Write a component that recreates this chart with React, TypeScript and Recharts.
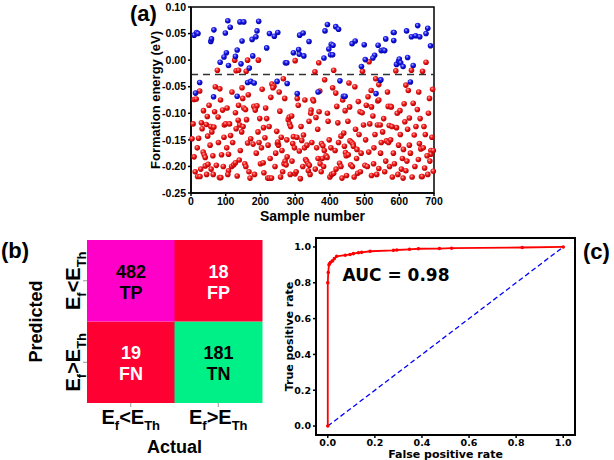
import React from 'react';
import {
  ScatterChart,
  Scatter,
  BarChart,
  Bar,
  Cell,
  LabelList,
  LineChart,
  Line,
  XAxis,
  YAxis,
  Label,
  ReferenceLine,
  ReferenceArea,
  ReferenceDot,
} from 'recharts';

// ---- (a) formation energy vs sample number ----
// [sample number, formation energy (eV)], predicted below threshold (red)
const belowFirstHalf: [number, number][] = [
  [9, -0.074], [15, -0.073], [9, -0.182], [19, -0.219], [26, -0.219], [32, -0.129], [35, -0.173], [38, -0.178],
  [41, -0.183], [41, -0.199], [49, -0.196], [47, -0.106], [44, -0.121], [3, -0.148], [22, -0.147], [12, -0.21],
  [28, -0.205], [36, -0.095], [30, -0.118], [45, -0.215], [6, -0.12], [18, -0.165], [25, -0.058], [48, -0.143],
  [57, -0.125], [63, -0.18], [64, -0.215], [70, -0.05], [83, -0.054], [68, -0.097], [73, -0.198], [78, -0.107],
  [82, -0.221], [86, -0.221], [96, -0.122], [100, -0.12], [91, -0.094], [76, -0.019], [55, -0.16], [60, -0.135],
  [88, -0.178], [93, -0.2], [66, -0.126], [52, -0.085], [79, -0.155], [95, -0.145], [58, -0.205], [85, -0.075],
  [111, -0.12], [108, -0.177], [108, -0.208], [117, -0.2], [123, -0.197], [128, -0.193], [128, -0.099], [130, -0.129],
  [136, -0.113], [140, -0.122], [147, -0.052], [149, -0.072], [104, -0.09], [120, -0.155], [114, -0.142], [133, -0.218],
  [126, 0.0], [130, -0.02], [137, -0.019], [137, -0.085], [142, -0.17], [103, -0.165], [118, -0.06], [146, -0.135],
  [106, -0.215], [139, -0.188],
  [152, -0.09], [157, -0.093], [160, -0.112], [163, -0.156], [167, -0.21], [159, -0.021], [163, 0.0], [194, 0.0],
  [181, -0.087], [185, -0.09], [190, -0.086], [185, -0.094], [198, -0.11], [200, -0.195], [155, -0.195], [170, -0.222],
  [172, -0.148], [179, -0.158], [193, -0.135], [158, -0.2], [188, -0.175], [196, -0.155], [165, -0.065], [183, -0.215],
  [150, -0.125],
  [208, -0.193], [209, -0.127], [213, -0.146], [221, -0.222], [226, -0.222], [232, -0.222], [233, -0.045], [239, -0.049],
  [236, -0.052], [247, -0.134], [249, -0.157], [252, -0.16], [250, -0.154], [205, -0.055], [215, -0.09], [222, -0.16],
  [228, -0.185], [242, -0.2], [203, -0.165], [218, -0.11], [230, -0.07], [244, -0.175], [210, -0.212], [225, -0.125],
  [256, -0.096], [264, -0.21], [266, -0.035], [268, -0.195], [271, -0.19], [274, -0.197], [277, -0.182], [280, -0.112],
  [283, -0.107], [284, -0.12], [287, -0.125], [290, -0.105], [293, -0.157], [295, -0.144], [300, -0.214], [260, -0.145],
  [262, -0.17], [258, -0.22], [270, -0.072], [276, -0.15], [286, -0.215], [300, -0.001], [291, -0.19], [254, -0.06],
  [298, -0.165],
  [306, -0.072], [312, -0.171], [319, -0.151], [324, -0.141], [330, -0.187], [333, -0.19], [337, -0.195], [341, -0.198],
  [343, -0.215], [346, -0.094], [351, -0.074], [303, -0.21], [309, -0.085], [315, -0.223], [322, -0.2], [327, -0.165],
  [334, -0.16], [340, -0.115], [345, -0.1], [348, -0.155], [317, -0.125], [328, -0.075], [305, -0.145], [338, -0.208],
];

const belowSecondHalf: [number, number][] = [
  [353, -0.077], [360, -0.108], [369, -0.097], [376, -0.157], [380, -0.161], [384, -0.17], [389, -0.18], [392, -0.183],
  [385, -0.037], [400, -0.22], [357, -0.022], [368, -0.005], [358, -0.205], [362, -0.165], [365, -0.13], [372, -0.195],
  [375, -0.21], [378, -0.185], [382, -0.2], [395, -0.115], [398, -0.15], [366, -0.185], [371, -0.058], [393, -0.1],
  [405, -0.215], [411, -0.213], [408, -0.052], [411, -0.019], [417, -0.062], [420, -0.087], [423, -0.118], [428, -0.194],
  [432, -0.2], [432, -0.143], [440, -0.137], [442, -0.162], [445, -0.174], [447, -0.18], [453, -0.178], [448, -0.217],
  [415, -0.17], [403, -0.165], [425, -0.155], [437, -0.075], [435, -0.222], [418, -0.205], [444, -0.095],
  [455, -0.043], [458, -0.152], [463, -0.155], [467, -0.158], [468, -0.162], [474, -0.13], [478, -0.168], [480, -0.213],
  [482, -0.078], [487, -0.097], [493, -0.099], [501, -0.198], [460, -0.197], [470, -0.22], [472, -0.05], [477, -0.185],
  [484, -0.14], [490, -0.175], [494, -0.021], [452, -0.115], [465, -0.2], [497, -0.122], [457, -0.088], [488, -0.21],
  [505, -0.085], [510, -0.069], [512, -0.173], [519, -0.057], [520, -0.088], [520, -0.217], [526, -0.195], [527, -0.165],
  [537, -0.122], [538, -0.077], [541, -0.046], [541, -0.075], [545, -0.122], [546, -0.175], [541, -0.204], [513, -0.003],
  [515, -0.12], [530, -0.14], [508, -0.2], [535, -0.215], [503, -0.15], [524, -0.105], [548, -0.155], [532, -0.035],
  [561, -0.19], [563, -0.152], [568, -0.087], [571, -0.123], [569, -0.155], [575, -0.087], [577, -0.088], [575, -0.15],
  [590, -0.02], [592, -0.127], [594, -0.1], [555, -0.11], [558, -0.21], [580, -0.22], [583, -0.175], [586, -0.195],
  [566, -0.06], [598, -0.16], [552, -0.135], [596, -0.215], [572, -0.2], [579, -0.125],
  [606, -0.205], [612, -0.168], [614, -0.082], [616, -0.116], [619, -0.047], [619, -0.208], [626, -0.057], [629, -0.109],
  [629, -0.16], [635, -0.019], [640, -0.081], [643, -0.141], [645, -0.2], [603, -0.14], [609, -0.185], [622, -0.19],
  [632, -0.175], [637, -0.22], [648, -0.125], [624, -0.13], [602, -0.095], [611, -0.222],
  [652, -0.093], [655, -0.187], [658, -0.157], [662, -0.167], [664, -0.219], [666, -0.219], [669, -0.165], [667, -0.021],
  [671, -0.125], [673, -0.203], [677, -0.004], [687, -0.072], [688, -0.19], [691, -0.17], [691, -0.177], [694, -0.145],
  [696, -0.055], [698, -0.17], [698, -0.209], [660, -0.11], [675, -0.14], [682, -0.215], [684, -0.1], [656, -0.06],
  [680, -0.18],
];

// predicted above threshold (blue)
const aboveSamples: [number, number][] = [
  [9, 0.047], [16, 0.052], [20, 0.05], [57, 0.035], [59, 0.04], [66, 0.057], [99, 0.051], [106, 0.074],
  [113, 0.062], [102, 0.014], [95, 0.006], [84, -0.004], [108, -0.01], [128, 0.007], [133, 0.019], [25, -0.042],
  [13, -0.062], [65, -0.069], [133, -0.068],
  [141, 0.072], [152, 0.072], [195, 0.073], [190, 0.055], [147, 0.036], [176, 0.039], [187, 0.044], [226, 0.05],
  [240, 0.045], [250, 0.052], [218, 0.023], [144, -0.007], [168, -0.015], [163, -0.042], [172, -0.04], [182, -0.043],
  [248, -0.04], [272, -0.005], [178, 0.008],
  [393, 0.067], [386, 0.055], [313, 0.047], [323, 0.051], [340, 0.035], [295, 0.014], [310, 0.02], [312, 0.011],
  [325, 0.008], [276, -0.005], [404, 0.03], [397, 0.021], [402, 0.01], [383, 0.004], [277, -0.044], [306, -0.063],
  [366, -0.06],
  [417, 0.063], [425, 0.058], [409, 0.028], [408, 0.01], [464, 0.031], [473, 0.036], [499, 0.029], [539, 0.028],
  [548, 0.018], [529, 0.009], [524, 0.004], [502, 0.001], [491, -0.012], [429, -0.039], [439, -0.068], [444, -0.068],
  [533, -0.063], [545, -0.038],
  [583, 0.052], [585, 0.052], [584, 0.037], [561, 0.04], [554, 0.019], [558, 0.018], [621, 0.055], [653, 0.065],
  [682, 0.06], [635, 0.044], [647, 0.046], [659, 0.044], [677, 0.05], [690, 0.027], [624, 0.005], [592, -0.008],
  [598, -0.002], [600, 0.002], [604, -0.005], [611, -0.012], [640, -0.01], [632, -0.041], [547, -0.037],
];

const thresholdEnergy = -0.027;
const energyTicks = [-0.25, -0.2, -0.15, -0.1, -0.05, 0, 0.05, 0.1];
const sampleTicks = [0, 100, 200, 300, 400, 500, 600, 700];

// ---- (b) confusion matrix ----
const actualClasses = ['E_f<E_Th', 'E_f>E_Th'];
const predictedClasses = ['E_f<E_Th', 'E_f>E_Th']; // top row, bottom row
const predLowCounts = [482, 18];
const predLowCodes = ['TP', 'FP'];
const predHighCounts = [19, 181];
const predHighCodes = ['FN', 'TN'];

// ---- (c) ROC ----
const rocFpr = [0, 0, 0.002, 0.005, 0.008, 0.012, 0.02, 0.028, 0.038, 0.074, 0.095, 0.109, 0.13, 0.144, 0.18, 0.279, 0.293, 0.347, 0.385, 0.474, 0.526, 0.826, 1.0];
const rocTpr = [0, 0.8, 0.857, 0.9, 0.907, 0.915, 0.922, 0.935, 0.948, 0.954, 0.958, 0.963, 0.968, 0.97, 0.976, 0.981, 0.983, 0.987, 0.99, 0.991, 0.993, 0.997, 1.0];
const chanceFpr = [0, 1];
const chanceTpr = [0, 1];
const rateTicks = [0, 0.2, 0.4, 0.6, 0.8, 1.0];
const aucValue = 0.98;

const arial = '"Liberation Sans", Arial, sans-serif';
const dejavu = '"DejaVu Sans", sans-serif';

const cellFill: Record<string, string> = { TP: '#ff00c8', FP: '#ff0033', FN: '#ff0033', TN: '#00f088' };
const cellText: Record<string, string> = { TP: '#000', FP: '#fff', FN: '#fff', TN: '#000' };

const toPoints = (rows: [number, number][]) => rows.map(([x, y]) => ({ x, y }));
const redPoints = toPoints([...belowFirstHalf, ...belowSecondHalf]);
const bluePoints = toPoints(aboveSamples);

const matrixData = actualClasses.map((actual) => ({ actual, high: 1, low: 1 }));
const rocData = rocFpr.map((fpr, i) => ({ fpr, tpr: rocTpr[i] }));
const chanceData = chanceFpr.map((fpr, i) => ({ fpr, tpr: chanceTpr[i] }));

const Ball = (grad: string) => (props: any) => (
  <circle cx={props.cx} cy={props.cy} r={2.8} fill={`url(#${grad})`} />
);

// text with subscripts, "E_f<E_Th" -> E f(sub) <E Th(sub)
const SubText = ({ text, size, sub }: { text: string; size: number; sub: number }) => {
  const parts = text.split(/_([A-Za-z]+)/);
  let down = false;
  return (
    <>
      {parts.map((p, k) => {
        if (!p) return null;
        const isSub = k % 2 === 1;
        let dy = 0;
        if (isSub && !down) { dy = size * 0.28; down = true; }
        if (!isSub && down) { dy = -size * 0.28; down = false; }
        return (
          <tspan key={k} dy={dy} fontSize={isSub ? sub : size}>{p}</tspan>
        );
      })}
    </>
  );
};

const VTitle = (props: any) => {
  const { viewBox, text, gap, size, family } = props;
  const x = viewBox.x + viewBox.width - gap;
  const y = viewBox.y + viewBox.height / 2;
  return (
    <text x={x} y={y} transform={`rotate(-90, ${x}, ${y})`} textAnchor="middle" fontSize={size}
      fontWeight="bold" fontFamily={family} fill="#000">{text}</text>
  );
};

const HTitle = (props: any) => {
  const { viewBox, text, gap, size, family } = props;
  return (
    <text x={viewBox.x + viewBox.width / 2} y={viewBox.y + gap} textAnchor="middle" fontSize={size}
      fontWeight="bold" fontFamily={family} fill="#000">{text}</text>
  );
};

const MatrixXTick = (props: any) => (
  <text x={props.x} y={props.y + 15} textAnchor="middle" fontFamily={arial} fontWeight="bold" fill="#000">
    <SubText text={props.payload.value} size={20} sub={13} />
  </text>
);

const MatrixYTick = (props: any) => {
  const idx = props.payload.value > 1 ? 0 : 1;
  return (
    <g transform={`translate(${props.x - 1}, ${props.y}) rotate(-90)`}>
      <text x={0} y={0} textAnchor="middle" fontFamily={arial} fontWeight="bold" fill="#000">
        <SubText text={predictedClasses[idx]} size={20} sub={13} />
      </text>
    </g>
  );
};

const cellLabel = (counts: number[], codes: string[]) => (props: any) => {
  const { x, y, width, height, index } = props;
  const cx = x + width / 2;
  const cy = y + height / 2;
  const color = cellText[codes[index]];
  return (
    <g fontFamily={arial} fontWeight="bold" fontSize={18} fill={color} textAnchor="middle">
      <text x={cx} y={cy - 3}>{counts[index]}</text>
      <text x={cx} y={cy + 18}>{codes[index]}</text>
    </g>
  );
};

const panelTag = (left: number, top: number): React.CSSProperties => ({
  position: 'absolute', left, top, fontFamily: arial, fontWeight: 'bold', fontSize: 22, lineHeight: 1, color: '#000',
});

export default function App() {
  const tickA = { fill: '#000', fontSize: 10.5, fontWeight: 'bold', fontFamily: arial };
  const tickC = { fill: '#000', fontSize: 9.5, fontWeight: 'bold', fontFamily: dejavu };
  return (
    <div style={{ position: 'absolute', left: 0, top: 0, width: 614, height: 460, background: '#fff', overflow: 'hidden' }}>
      <svg width={0} height={0} style={{ position: 'absolute' }}>
        <defs>
          <radialGradient id="redBall" cx="40%" cy="35%" r="65%">
            <stop offset="0%" stopColor="#ffb0b0" />
            <stop offset="45%" stopColor="#f01818" />
            <stop offset="100%" stopColor="#b00000" />
          </radialGradient>
          <radialGradient id="blueBall" cx="40%" cy="35%" r="65%">
            <stop offset="0%" stopColor="#b0b0ff" />
            <stop offset="45%" stopColor="#1818e8" />
            <stop offset="100%" stopColor="#0000a0" />
          </radialGradient>
        </defs>
      </svg>

      {/* (a) */}
      <div style={panelTag(130, 3)}>(a)</div>
      <div style={{ position: 'absolute', left: 0, top: 0 }}>
        <ScatterChart width={462} height={230} margin={{ top: 7, right: 28, bottom: 0, left: 0 }}>
          <XAxis type="number" dataKey="x" domain={[0, 700]} ticks={sampleTicks} height={37}
            tick={tickA} tickSize={3} tickMargin={2} stroke="#000" strokeWidth={1.5} interval={0}>
            <Label content={(p: any) => <HTitle {...p} text="Sample number" gap={28} size={14} family={arial} />} />
          </XAxis>
          <YAxis type="number" dataKey="y" domain={[-0.25, 0.1]} ticks={energyTicks} width={191}
            tick={tickA} tickSize={3} tickMargin={2} stroke="#000" strokeWidth={1.5} interval={0}
            tickFormatter={(v: number) => v.toFixed(2)}>
            <Label content={(p: any) => <VTitle {...p} text="Formation energy (eV)" gap={31} size={13} family={arial} />} />
          </YAxis>
          <ReferenceArea x1={0} x2={700} y1={-0.25} y2={0.1} fill="none" stroke="#000" strokeWidth={1.5} />
          <ReferenceLine y={thresholdEnergy} stroke="#333" strokeWidth={1.6} strokeDasharray="7 5" />
          <Scatter data={redPoints} shape={Ball('redBall')} isAnimationActive={false} />
          <Scatter data={bluePoints} shape={Ball('blueBall')} isAnimationActive={false} />
        </ScatterChart>
      </div>

      {/* (b) */}
      <div style={panelTag(1, 240)}>(b)</div>
      <div style={{ position: 'absolute', left: 0, top: 230 }}>
        <BarChart width={280} height={230} data={matrixData} barCategoryGap={0} barGap={0}
          margin={{ top: 10, right: 18, bottom: 0, left: 0 }}>
          <XAxis dataKey="actual" type="category" height={57} axisLine={false} tickSize={4} tickMargin={2}
            tickLine={{ stroke: '#999' }} tick={<MatrixXTick />} interval={0}>
            <Label content={(p: any) => <HTitle {...p} text="Actual" gap={50} size={18} family={arial} />} />
          </XAxis>
          <YAxis type="number" domain={[0, 2]} ticks={[0.5, 1.5]} width={87} axisLine={false} tickSize={4}
            tickMargin={2} tickLine={{ stroke: '#999' }} tick={<MatrixYTick />} interval={0}>
            <Label content={(p: any) => <VTitle {...p} text="Predicted" gap={45} size={18} family={arial} />} />
          </YAxis>
          <Bar dataKey="high" stackId="m" isAnimationActive={false}>
            {predHighCodes.map((c) => <Cell key={c} fill={cellFill[c]} />)}
            <LabelList content={cellLabel(predHighCounts, predHighCodes)} />
          </Bar>
          <Bar dataKey="low" stackId="m" isAnimationActive={false}>
            {predLowCodes.map((c) => <Cell key={c} fill={cellFill[c]} />)}
            <LabelList content={cellLabel(predLowCounts, predLowCodes)} />
          </Bar>
        </BarChart>
      </div>

      {/* (c) */}
      <div style={panelTag(583, 241)}>(c)</div>
      <div style={{ position: 'absolute', left: 280, top: 230 }}>
        <LineChart width={334} height={230} margin={{ top: 8, right: 39, bottom: 0, left: 0 }}>
          <XAxis type="number" dataKey="fpr" domain={[-0.05, 1.05]} ticks={rateTicks} height={25}
            tick={tickC} tickSize={3} tickMargin={1} stroke="#000" strokeWidth={1.5} interval={0}
            tickFormatter={(v: number) => v.toFixed(1)} allowDataOverflow>
            <Label content={(p: any) => <HTitle {...p} text="False positive rate" gap={23} size={11} family={dejavu} />} />
          </XAxis>
          <YAxis type="number" dataKey="tpr" domain={[-0.05, 1.05]} ticks={rateTicks} width={36}
            tick={tickC} tickSize={3} tickMargin={2} stroke="#000" strokeWidth={1.5} interval={0}
            tickFormatter={(v: number) => v.toFixed(1)} allowDataOverflow>
            <Label content={(p: any) => <VTitle {...p} text="True positive rate" gap={23} size={11} family={dejavu} />} />
          </YAxis>
          <ReferenceArea x1={-0.05} x2={1.05} y1={-0.05} y2={1.05} fill="none" stroke="#000" strokeWidth={2} />
          <Line data={chanceData} dataKey="tpr" stroke="#0000ff" strokeWidth={1.3} strokeDasharray="5 3"
            dot={false} isAnimationActive={false} />
          <Line data={rocData} dataKey="tpr" stroke="#ff0000" strokeWidth={1.8}
            dot={{ r: 0.9, fill: '#ff0000', stroke: '#ff0000' }} isAnimationActive={false} />
          <ReferenceDot x={0.29} y={0.842} r={0} fill="none" stroke="none"
            label={{ value: `AUC = ${aucValue.toFixed(2)}`, position: 'center', fontSize: 17, fontWeight: 'bold', fontFamily: dejavu, fill: '#000' }} />
        </LineChart>
      </div>
    </div>
  );
}
